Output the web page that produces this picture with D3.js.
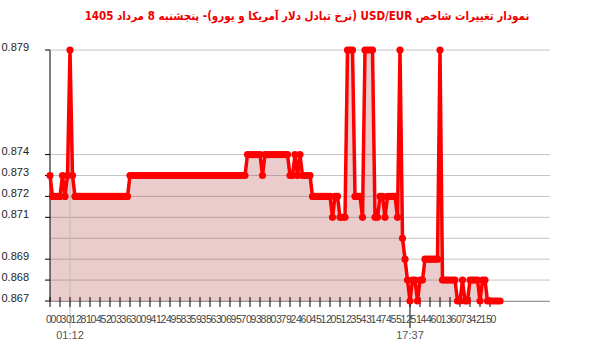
<!DOCTYPE html>
<html><head><meta charset="utf-8">
<script src="https://cdn.jsdelivr.net/npm/d3@7"></script>
<style>body{margin:0;background:#fff}svg{display:block}</style>
</head><body>
<svg id="c" width="600" height="352"></svg>
<script>
const titleText = "نمودار تغییرات شاخص USD/EUR (نرخ تبادل دلار آمریکا و یورو)-  پنجشنبه  8 مرداد 1405";
const rates = [
  .873,.872,.872,.872,.872,.873,.872,.873,.879,.873,
  .872,.872,.872,.872,.872,.872,.872,.872,.872,.872,
  .872,.872,.872,.872,.872,.872,.872,.872,.872,.872,
  .872,.872,.873,.873,.873,.873,.873,.873,.873,.873,
  .873,.873,.873,.873,.873,.873,.873,.873,.873,.873,
  .873,.873,.873,.873,.873,.873,.873,.873,.873,.873,
  .873,.873,.873,.873,.873,.873,.873,.873,.873,.873,
  .873,.873,.873,.873,.873,.873,.873,.873,.873,.874,
  .874,.874,.874,.874,.874,.873,.874,.874,.874,.874,
  .874,.874,.874,.874,.874,.874,.873,.873,.874,.873,
  .874,.873,.873,.873,.873,.872,.872,.872,.872,.872,
  .872,.872,.872,.871,.872,.872,.871,.871,.871,.879,
  .879,.879,.872,.872,.872,.871,.879,.879,.879,.879,
  .871,.871,.872,.872,.871,.872,.872,.872,.872,.871,
  .879,.870,.869,.868,.867,.868,.868,.867,.868,.868,
  .869,.869,.869,.869,.869,.869,.879,.868,.868,.868,
  .868,.868,.868,.867,.867,.868,.867,.867,.868,.868,
  .868,.868,.867,.868,.868,.867,.867,.867,.867,.867,
  .867
];
const yTickValues = [0.879, 0.874, 0.873, 0.872, 0.871, 0.869, 0.868, 0.867];
const yGridValues = [0.879, 0.874, 0.873, 0.872, 0.871, 0.870, 0.869, 0.868, 0.867];
const xTickLabels = ["00","03","01","28","10","45","20","33","63","00","94","12","49","58","35",
  "93","56","30","69","57","09","38","80","37","92","46","04","51","20","51",
  "23","54","31","47","45","51","25","14","46","01","36","07","34","21","50"];
const markerLabels = [{idx: 8, text: "01:12"}, {idx: 144, text: "17:37"}];
const tickEvery = 4;

const svg = d3.select("#c");
const L = 50, R = 500, T = 50, B = 301, gridRight = 550;
const x = d3.scaleLinear().domain([0, rates.length - 1]).range([L, R]);
const y = d3.scaleLinear().domain([0.867, 0.879]).range([B, T]);

// title
svg.append("text").attr("x", 307).attr("y", 20).attr("text-anchor", "middle")
  .attr("direction", "rtl")
  .style("font-family", "'DejaVu Sans Condensed', 'DejaVu Sans', sans-serif").style("font-size", "11.5px")
  .style("font-weight", "bold").attr("fill", "#ee0000").text(titleText);

// grid
svg.append("g").selectAll("line").data(yGridValues).join("line")
  .attr("x1", L).attr("x2", gridRight).attr("y1", d => y(d)).attr("y2", d => y(d))
  .attr("stroke", "#c4c4c4").attr("stroke-width", 1);

// area
const area = d3.area().x((d, i) => x(i)).y0(y(0.867)).y1(d => y(d));
svg.append("path").datum(rates).attr("d", area).attr("fill", "#b03434").attr("fill-opacity", 0.25);

// marker vertical lines
svg.append("line").attr("x1", x(8)).attr("x2", x(8)).attr("y1", T).attr("y2", 328)
  .attr("stroke", "#bbb").attr("stroke-width", 1);
svg.append("line").attr("x1", x(144)).attr("x2", x(144)).attr("y1", B).attr("y2", 328)
  .attr("stroke", "#000").attr("stroke-width", 1);

// y axis
const yAxis = svg.append("g");
yAxis.append("line").attr("x1", L).attr("x2", L).attr("y1", T).attr("y2", B).attr("stroke", "#000");
yAxis.selectAll("line.t").data(yTickValues).join("line").attr("class", "t")
  .attr("x1", L - 5).attr("x2", L).attr("y1", d => y(d)).attr("y2", d => y(d)).attr("stroke", "#000");
yAxis.selectAll("text").data(yTickValues).join("text")
  .attr("x", 29).attr("y", d => y(d) + 0.5).attr("text-anchor", "end")
  .style("font-family", "Arial, 'Liberation Sans', sans-serif").style("font-size", "11px")
  .attr("fill", "#222").text(d => d.toFixed(3));

// x axis
const xTicks = d3.range(0, rates.length, tickEvery).slice(0, xTickLabels.length);
const xAxis = svg.append("g");
xAxis.append("line").attr("x1", L).attr("x2", gridRight).attr("y1", B + 0.5).attr("y2", B + 0.5).attr("stroke", "#999");
xAxis.selectAll("line.t").data(xTicks).join("line").attr("class", "t")
  .attr("x1", d => x(d)).attr("x2", d => x(d)).attr("y1", B - 4).attr("y2", B + 6).attr("stroke", "#000");
xAxis.selectAll("text").data(xTicks).join("text")
  .attr("x", d => x(d) + 0.6).attr("y", 323).attr("text-anchor", "middle")
  .style("font-family", "Arial, 'Liberation Sans', sans-serif").style("font-size", "10.5px")
  .style("letter-spacing", "-1.3px")
  .attr("fill", "#444").text((d, i) => xTickLabels[i]);
svg.selectAll("text.m").data(markerLabels).join("text").attr("class", "m")
  .attr("x", d => x(d.idx)).attr("y", 339).attr("text-anchor", "middle")
  .style("font-family", "Arial, 'Liberation Sans', sans-serif").style("font-size", "11px")
  .attr("fill", "#555").text(d => d.text);

// line + points
const line = d3.line().x((d, i) => x(i)).y(d => y(d));
svg.append("path").datum(rates).attr("d", line).attr("fill", "none")
  .attr("stroke", "#ff0000").attr("stroke-width", 3.5).attr("stroke-linejoin", "round");
svg.append("g").selectAll("circle").data(rates).join("circle")
  .attr("cx", (d, i) => x(i)).attr("cy", d => y(d)).attr("r", 3.6).attr("fill", "#ff0000");
</script>
</body></html>
